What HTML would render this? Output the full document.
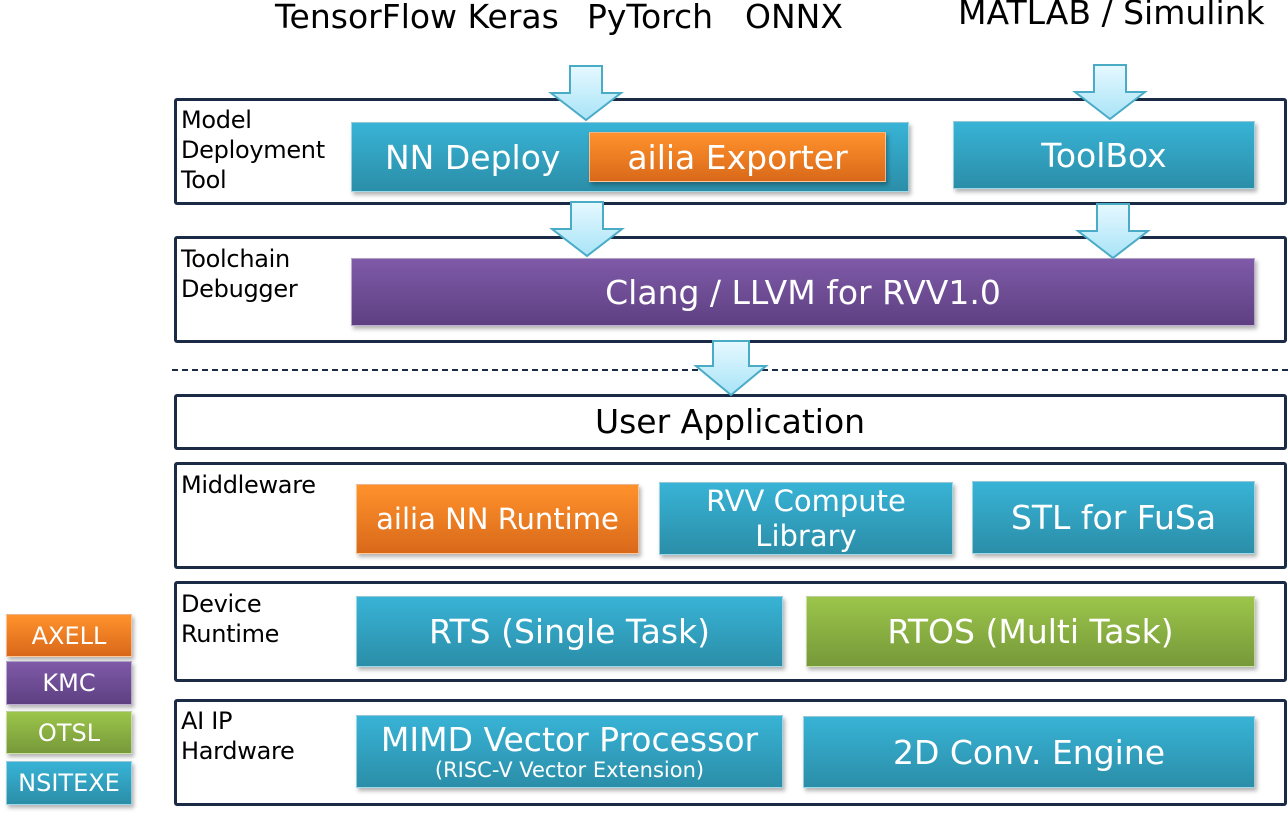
<!DOCTYPE html>
<html><head><meta charset="utf-8"><style>
body{margin:0;width:1288px;height:815px;background:#fff;position:relative;overflow:hidden;font-family:"DejaVu Sans","Liberation Sans",sans-serif}
.f{position:absolute;border:3px solid #1c2b45;border-radius:3px;box-sizing:border-box;background:#fff}
.lab{position:absolute;font-size:24px;line-height:30px;color:#000;letter-spacing:-0.3px}
.b{position:absolute;box-sizing:border-box;color:#fff;display:flex;align-items:center;justify-content:center;text-align:center;box-shadow:2px 3px 4px rgba(0,0,0,.3);border:1px solid rgba(255,255,255,.5);white-space:nowrap}
.bl{background:linear-gradient(#38b3d6,#2b8ea8)}
.or{background:linear-gradient(#ff922c,#d9691a)}
.pu{background:linear-gradient(#7f5aa8,#5e4082)}
.gr{background:linear-gradient(#9bc54a,#77993a)}
.t{position:absolute;font-size:33px;color:#000;white-space:nowrap;line-height:36px}
.big{font-size:33px}
</style></head><body>
<div class="t" style="left:275px;top:-1px">TensorFlow Keras</div>
<div class="t" style="left:587px;top:-1px">PyTorch</div>
<div class="t" style="left:745px;top:-1px">ONNX</div>
<div class="t" style="left:958px;top:-5px">MATLAB / Simulink</div>

<div class="f" style="left:174px;top:98px;width:1113px;height:107px"></div>
<div class="lab" style="left:181px;top:105px">Model<br>Deployment<br>Tool</div>
<div class="f" style="left:174px;top:236px;width:1113px;height:107px"></div>
<div class="lab" style="left:181px;top:244px">Toolchain<br>Debugger</div>
<div style="position:absolute;left:172px;top:369px;width:1116px;border-top:2px dashed #1c2b45"></div>
<div class="f" style="left:174px;top:394px;width:1113px;height:56px"></div>
<div class="t" style="left:430px;width:600px;text-align:center;top:404px">User Application</div>
<div class="f" style="left:174px;top:462px;width:1113px;height:107px"></div>
<div class="lab" style="left:181px;top:470px">Middleware</div>
<div class="f" style="left:174px;top:581px;width:1113px;height:101px"></div>
<div class="lab" style="left:181px;top:589px">Device<br>Runtime</div>
<div class="f" style="left:174px;top:699px;width:1113px;height:107px"></div>
<div class="lab" style="left:181px;top:706px">AI IP<br>Hardware</div>

<div class="b bl big" style="left:351px;top:122px;width:558px;height:70px;justify-content:flex-start;padding-left:33px">NN Deploy</div>
<div class="b or big" style="left:589px;top:132px;width:297px;height:50px">ailia Exporter</div>
<div class="b bl big" style="left:953px;top:121px;width:302px;height:68px">ToolBox</div>
<div class="b pu big" style="left:351px;top:258px;width:904px;height:68px">Clang / LLVM for RVV1.0</div>
<div class="b or" style="left:356px;top:484px;width:283px;height:70px;font-size:29px">ailia NN Runtime</div>
<div class="b bl" style="left:659px;top:482px;width:294px;height:73px;font-size:29px;line-height:35px">RVV Compute<br>Library</div>
<div class="b bl big" style="left:972px;top:481px;width:283px;height:73px">STL for FuSa</div>
<div class="b bl big" style="left:356px;top:596px;width:427px;height:71px">RTS (Single Task)</div>
<div class="b gr big" style="left:806px;top:596px;width:449px;height:71px">RTOS (Multi Task)</div>
<div class="b bl" style="left:356px;top:715px;width:427px;height:73px;flex-direction:column;font-size:33px;line-height:36px">MIMD Vector Processor<span style="font-size:21px;line-height:24px">(RISC-V Vector Extension)</span></div>
<div class="b bl big" style="left:803px;top:716px;width:452px;height:72px">2D Conv. Engine</div>

<div class="b or" style="left:6px;top:614px;width:126px;height:43px;font-size:24px">AXELL</div>
<div class="b pu" style="left:6px;top:661px;width:126px;height:44px;font-size:24px">KMC</div>
<div class="b gr" style="left:6px;top:711px;width:126px;height:43px;font-size:24px">OTSL</div>
<div class="b bl" style="left:6px;top:761px;width:126px;height:44px;font-size:24px">NSITEXE</div>

<svg width="1288" height="815" style="position:absolute;left:0;top:0">
<defs><linearGradient id="a" x1="0" y1="0" x2="0" y2="1"><stop offset="0" stop-color="#e6f8ff"/><stop offset="1" stop-color="#a8e4f7"/></linearGradient></defs>
<g fill="url(#a)" stroke="#4aabc6" stroke-width="2">
<path d="M-16,0 H16 V27 H35 L0,54 L-35,27 H-16 Z" transform="translate(586,66)"/>
<path d="M-16,0 H16 V27 H35 L0,54 L-35,27 H-16 Z" transform="translate(1110,65)"/>
<path d="M-16,0 H16 V27 H35 L0,54 L-35,27 H-16 Z" transform="translate(587,202)"/>
<path d="M-16,0 H16 V27 H35 L0,54 L-35,27 H-16 Z" transform="translate(1113,204)"/>
<path d="M-18,0 H18 V25 H35 L0,54 L-35,25 H-18 Z" transform="translate(731,341)"/>
</g></svg>
</body></html>
